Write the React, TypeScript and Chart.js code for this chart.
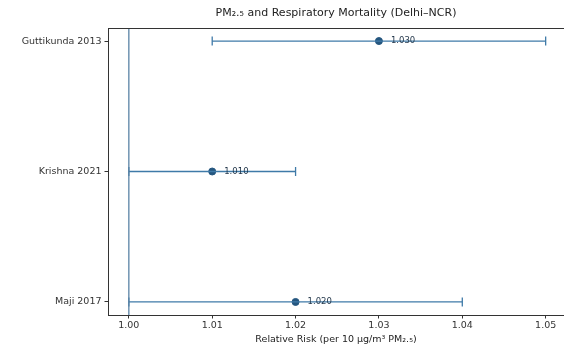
import React, { useEffect, useRef } from 'react';
import { Chart, registerables } from 'chart.js';

Chart.register(...registerables);

const studies = ['Guttikunda 2013', 'Krishna 2021', 'Maji 2017'];
const relativeRisk = [1.03, 1.01, 1.02];
const ciLow = [1.01, 1.0, 1.0];
const ciHigh = [1.05, 1.02, 1.04];
const rrLabels = ['1.030', '1.010', '1.020'];
const xTickValues = [1.0, 1.01, 1.02, 1.03, 1.04, 1.05];
const referenceValue = 1.0;

const FONT = "'DejaVu Sans', sans-serif";
const BAR_COLOR = '#3f7aa8';
const POINT_COLOR = '#24567f';
const REF_COLOR = '#5b84a6';
const AXIS_COLOR = '#333333';

const valueLabelPlugin = {
  id: 'valueLabels',
  afterDatasetsDraw(chart: any) {
    const { ctx, scales } = chart;
    ctx.save();
    ctx.font = `8.5px ${FONT}`;
    ctx.fillStyle = '#1f3347';
    ctx.textAlign = 'left';
    ctx.textBaseline = 'middle';
    relativeRisk.forEach((v, i) => {
      const x = scales.x.getPixelForValue(v) + 12;
      const y = scales.y.getPixelForValue(i);
      ctx.fillText(rrLabels[i], x, y);
    });
    ctx.restore();
  },
};

const topSpinePlugin = {
  id: 'topSpine',
  afterDraw(chart: any) {
    const { ctx, chartArea } = chart;
    ctx.save();
    ctx.strokeStyle = AXIS_COLOR;
    ctx.lineWidth = 1;
    ctx.beginPath();
    ctx.moveTo(chartArea.left, chartArea.top + 0.5);
    ctx.lineTo(chartArea.right, chartArea.top + 0.5);
    ctx.stroke();
    ctx.restore();
  },
};

export default function App() {
  const canvasRef = useRef<HTMLCanvasElement | null>(null);

  useEffect(() => {
    if (!canvasRef.current) return;
    const errorDatasets = studies.map((s, i) => ({
      type: 'line' as const,
      label: s + ' CI',
      data: [
        { x: ciLow[i], y: i },
        { x: ciHigh[i], y: i },
      ],
      borderColor: BAR_COLOR,
      borderWidth: 1.3,
      pointStyle: 'line' as const,
      rotation: 90,
      pointRadius: 4.5,
      pointBorderWidth: 1.3,
      pointBorderColor: BAR_COLOR,
      showLine: true,
    }));

    const chart = new Chart(canvasRef.current, {
      type: 'scatter',
      data: {
        datasets: [
          {
            type: 'line' as const,
            label: 'ref',
            data: [
              { x: referenceValue, y: -0.1 },
              { x: referenceValue, y: 2.1 },
            ],
            borderColor: REF_COLOR,
            borderWidth: 1.3,
            pointRadius: 0,
            showLine: true,
          },
          ...errorDatasets,
          {
            type: 'scatter' as const,
            label: 'RR',
            data: relativeRisk.map((v, i) => ({ x: v, y: i })),
            backgroundColor: POINT_COLOR,
            borderColor: POINT_COLOR,
            pointRadius: 3.5,
          },
        ] as any,
      },
      options: {
        responsive: false,
        animation: false,
        layout: { padding: 0, autoPadding: false },
        plugins: {
          legend: { display: false },
          tooltip: { enabled: false },
          title: {
            display: true,
            text: 'PM₂.₅ and Respiratory Mortality (Delhi–NCR)',
            fullSize: false,
            color: '#222',
            font: { family: FONT, size: 11, weight: 'normal', lineHeight: 1.2 },
            padding: { top: 7, bottom: 7.8 },
          },
        },
        scales: {
          x: {
            type: 'linear',
            min: 0.9975,
            max: 1.0522,
            afterBuildTicks: (scale: any) => {
              scale.ticks = xTickValues.map((v) => ({ value: v }));
            },
            afterFit: (scale: any) => {
              scale.height = 32;
              scale.paddingLeft = 0;
              scale.paddingRight = 0;
            },
            ticks: {
              autoSkip: false,
              maxRotation: 0,
              color: '#333',
              font: { family: FONT, size: 9.5 },
              padding: 1,
              callback: (v: any) => Number(v).toFixed(2),
            },
            grid: {
              drawOnChartArea: false,
              drawTicks: true,
              tickLength: 3.5,
              color: AXIS_COLOR,
            },
            border: { display: true, color: AXIS_COLOR, width: 1 },
            title: {
              display: true,
              text: 'Relative Risk (per 10 μg/m³ PM₂.₅)',
              color: '#222',
              font: { family: FONT, size: 9.5 },
              padding: { top: 1, bottom: 2 },
            },
          },
          y: {
            type: 'linear',
            reverse: true,
            min: -0.1,
            max: 2.1,
            afterBuildTicks: (scale: any) => {
              scale.ticks = studies.map((_, i) => ({ value: i }));
            },
            afterFit: (scale: any) => {
              scale.width = 108;
              scale.paddingTop = 0;
              scale.paddingBottom = 0;
            },
            ticks: {
              autoSkip: false,
              color: '#333',
              font: { family: FONT, size: 9.5 },
              padding: 3,
              callback: (v: any) => studies[Number(v)] ?? '',
            },
            grid: {
              drawOnChartArea: false,
              drawTicks: true,
              tickLength: 3.5,
              color: AXIS_COLOR,
            },
            border: { display: true, color: AXIS_COLOR, width: 1 },
          },
        },
      },
      plugins: [valueLabelPlugin, topSpinePlugin],
    });
    return () => chart.destroy();
  }, []);

  return (
    <div style={{ position: 'fixed', left: 0, top: 0, width: 564, height: 347, background: '#fff' }}>
      <canvas ref={canvasRef} width={564} height={347} />
    </div>
  );
}
